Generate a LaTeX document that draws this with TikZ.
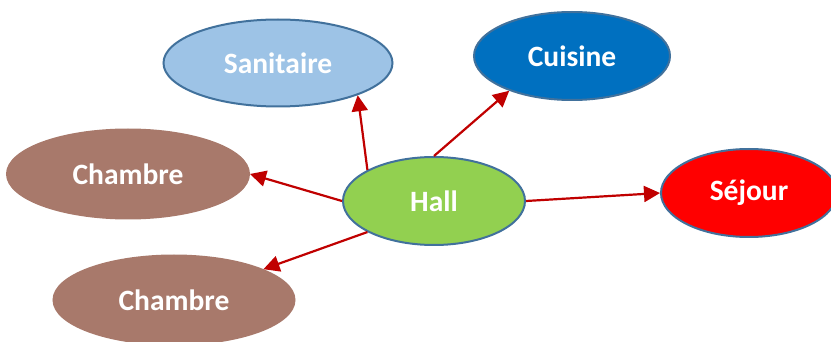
\documentclass[tikz,border=0pt]{standalone}
\usepackage{fontspec}
\setmainfont{Carlito}
\usetikzlibrary{arrows.meta,shapes.geometric}
\definecolor{roomEdge}{HTML}{41719C}
\definecolor{roomSky}{HTML}{9DC3E6}
\definecolor{roomBlue}{HTML}{0070C0}
\definecolor{roomBrown}{HTML}{A8796B}
\definecolor{roomGreen}{HTML}{92D050}
\definecolor{roomRed}{HTML}{FF0000}
\definecolor{linkRed}{HTML}{C00000}
\tikzset{
  >={Triangle[length=16pt,width=16pt]},
  room/.style={ellipse, draw=roomEdge, line width=2pt, text=white,
               font=\fontsize{29.5}{31}\selectfont\bfseries, inner sep=0pt},
  link/.style={->, draw=linkRed, fill=linkRed, line width=2.2pt},
}

\begin{document}
\begin{tikzpicture}[x=1pt,y=-1pt]
  \useasboundingbox (0,0) rectangle (831,342);
  % rooms
  \node[room,fill=roomGreen,minimum width=182pt,minimum height=88pt] (hall) at (434,201) {Hall};
  \node[room,fill=roomSky,minimum width=229pt,minimum height=87pt] (sani) at (278,63) {Sanitaire};
  \node[room,fill=roomBlue,minimum width=196pt,minimum height=88pt] (cuisine) at (572,56) {Cuisine};
  \node[room,fill=roomRed,minimum width=176pt,minimum height=88pt] (sejour) at (749,193) {Séjour};
  \node[room,draw=roomBrown,fill=roomBrown,minimum width=242pt,minimum height=89pt] (chtop) at (128,174) {Chambre};
  \node[room,draw=roomBrown,fill=roomBrown,minimum width=241pt,minimum height=89pt] (chbot) at (174,300) {Chambre};
  % links from the hall
  \foreach \from/\to in {hall.155/sani.-22, hall.north/cuisine.209, hall.west/chtop.east,
                         hall.205/chbot.19, hall.east/sejour.west}
    \draw[link] (\from) -- (\to);
\end{tikzpicture}
\end{document}
